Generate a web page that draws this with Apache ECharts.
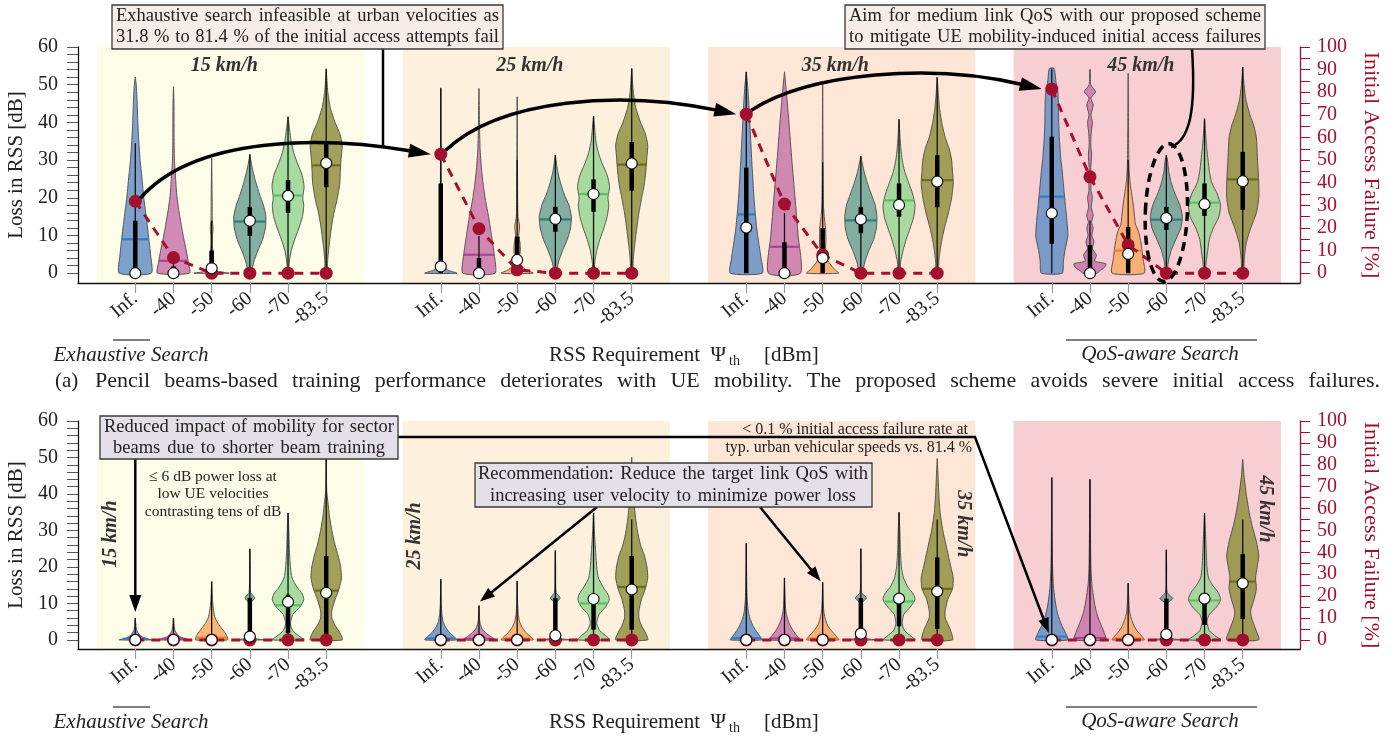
<!DOCTYPE html>
<html><head><meta charset="utf-8">
<script src="https://cdn.jsdelivr.net/npm/echarts@6/dist/echarts.min.js"></script>
<style>html,body{margin:0;padding:0;background:#fff}#c{width:1398px;height:738px}</style>
</head><body><div id="c"></div>
<script>
// ---------------- DATA ----------------
const thresholds = ['Inf.', '-40', '-50', '-60', '-70', '-83.5'];
const velocities = ['15 km/h', '25 km/h', '35 km/h', '45 km/h'];
const leftTicks = [0, 10, 20, 30, 40, 50, 60];
const rightTicks = [0, 10, 20, 30, 40, 50, 60, 70, 80, 90, 100];

// Initial access failure rate [%] per velocity group (rows) and RSS requirement (cols)
const pencilFailure = [
  [31.8, 6.9, 0, 0, 0, 0],
  [52.6, 19.7, 1.5, 0, 0, 0],
  [70.3, 30.6, 8.1, 0, 0, 0],
  [81.4, 42.6, 12.5, 0, 0, 0]
];
const sectorFailure = [
  [0, 0, 0, 0, 0, 0],
  [0, 0, 0, 0, 0, 0],
  [0, 0, 0, 0, 0, 0],
  [0, 0, 0, 0, 0, 0]
];

// Loss in RSS statistics [dB]: [whisker low, Q1, median, Q3, whisker high, mean]
const pencilStats = [
  [[0,0,0,13.9,34.5,9.0],[0,0,0,1.8,4,3.3],[0,1.3,1.3,6,14,3.8],[0,9.9,13.9,17.6,31.5,13.7],[0,16,20.5,24.7,41.5,20.6],[0,22.8,29.2,34.9,54.2,28.6]],
  [[0,0,1.8,23.8,49.2,11.5],[0,0,0,4,9.9,4.9],[0,3.5,3.5,9.7,30,5.2],[0,11,14.4,17.6,31.3,14.3],[0,16.3,21,24.9,41.6,21],[0,21.9,29.1,34.8,54.3,28.8]],
  [[0,0,12.1,28,53.4,15.6],[0,0,0,8.2,16,7.0],[0,0,4,12,29.4,5.5],[0,10.6,14.3,17.6,31,14],[0,15,18.1,23.8,40.8,19.3],[0,17.5,24.3,31.3,52,24.7]],
  [[0,7.8,15.9,36.2,54.3,20.3],[0,0,0,7.4,14,7],[0,0,5.1,12.3,30,6],[0,11.5,14.6,17.6,31.3,14.2],[0,15.2,18.3,23.8,41,18.7],[0,16.8,24.4,32.2,54.7,24.9]]
];
const sectorStats = [
  [[0,0,0,0.3,6,0.3],[0,0,0,0.3,6,0.3],[0,0,0,0.5,16,0.6],[0,0,0.9,11.5,25,1.5],[0,1.8,10.4,12.4,34.8,9.5],[0,0,12.9,23,49.7,13.5]],
  [[0,0,0,0.3,16.6,0.4],[0,0,0,0.3,9.4,0.3],[0,0,0,0.3,16.1,0.4],[0,0,1.2,11.5,24.5,1.5],[0,2.8,11.2,11,34.8,10],[0,2.8,13.8,23,33,14.5]],
  [[0,0,0,0.3,26.5,0.5],[0,0,0,0.3,17,0.4],[0,0,0,0.3,15.8,0.4],[0,0,1.7,11.5,25,1.8],[0,3.7,11.3,10,35,10.5],[0,3,13.3,22.6,33,14]],
  [[0,0,0,0.3,44.5,0.9],[0,0,0,0.3,44,0.5],[0,0,0,0.3,15.5,0.4],[0,0,1.5,11.3,24.7,1.8],[0,4.1,11.3,10.2,34.7,10.8],[0,5.7,15.5,23.5,33,16]]
];

// Violin density outlines: [loss dB, relative half width]
const pencilShapes = [
  [
    [[0,1],[5,0.95],[9,0.85],[15,0.68],[20,0.53],[25,0.42],[30,0.3],[35,0.22],[40,0.16],[45,0.12],[50,0.06],[52,0]],
    [[0,1],[3,0.92],[6,0.8],[9,0.65],[13,0.48],[17,0.32],[21,0.2],[26,0.12],[30,0.06],[35,0.04],[45,0.03],[49.5,0]],
    [[0,1.1],[0.5,0.35],[1.2,0.12],[3,0.1],[5,0.11],[7,0.05],[10,0.05],[12,0.09],[14,0.04],[20,0.03],[30.5,0]],
    [[0,0.08],[3,0.25],[6,0.5],[9,0.8],[12,0.97],[15,1],[18,0.85],[21,0.6],[24,0.38],[27,0.2],[29,0.1],[31.5,0]],
    [[0,0.03],[3,0.08],[6,0.2],[9,0.42],[12,0.68],[15,0.9],[18,0.98],[20,0.92],[23,1],[26,0.88],[29,0.6],[32,0.35],[35,0.2],[38,0.1],[41.5,0]],
    [[0,0.05],[4,0.1],[8,0.2],[12,0.32],[16,0.48],[20,0.7],[24,0.85],[27,0.88],[30,0.92],[34,1],[37,0.85],[40,0.55],[44,0.25],[48,0.1],[54,0]]
  ],
  [
    [[0,1],[0.8,0.45],[2,0.15],[4,0.06],[10,0.03],[30,0.02],[49,0]],
    [[0,1],[5,0.95],[10,0.78],[15,0.6],[19,0.42],[23,0.28],[28,0.15],[33,0.07],[40,0.03],[49,0]],
    [[0,1],[1,0.5],[2.5,0.18],[4,0.14],[6,0.2],[8,0.18],[10,0.1],[12.5,0.15],[15,0.05],[20,0.03],[46.8,0]],
    [[0,0.05],[3,0.2],[6,0.45],[9,0.75],[12,0.95],[15,1],[18,0.85],[21,0.55],[24,0.32],[27,0.15],[31.3,0]],
    [[0,0.03],[3,0.08],[6,0.2],[9,0.4],[12,0.65],[15,0.85],[18,0.95],[20,0.9],[23,1],[26,0.85],[29,0.55],[32,0.3],[35,0.15],[38,0.08],[41.6,0]],
    [[0,0.05],[4,0.1],[8,0.2],[12,0.32],[16,0.45],[20,0.62],[24,0.8],[28,0.9],[31,0.95],[34,1],[37,0.85],[40,0.55],[44,0.25],[48,0.1],[54.3,0]]
  ],
  [
    [[0,1],[4,0.92],[8,0.78],[12,0.65],[16,0.56],[20,0.48],[25,0.41],[30,0.34],[35,0.28],[40,0.22],[45,0.16],[50,0.08],[53.4,0]],
    [[0,1],[10,0.85],[20,0.66],[30,0.46],[40,0.28],[48,0.12],[53.4,0]],
    [[0,1],[1,0.75],[2.5,0.45],[4,0.25],[6,0.18],[9,0.2],[12,0.18],[15,0.1],[18,0.05],[25,0.03],[50.7,0]],
    [[0,0.08],[3,0.25],[6,0.5],[9,0.8],[12,0.97],[15,1],[18,0.9],[21,0.65],[24,0.4],[27,0.2],[31,0]],
    [[0,0.05],[3,0.1],[6,0.25],[9,0.45],[12,0.7],[15,0.92],[18,1],[21,0.85],[24,0.6],[27,0.35],[30,0.2],[33,0.12],[36,0.06],[40.8,0]],
    [[0,0.05],[4,0.12],[8,0.25],[12,0.45],[16,0.7],[20,0.9],[24,1],[27,0.95],[30,0.9],[33,0.75],[36,0.5],[40,0.28],[44,0.14],[48,0.06],[52,0]]
  ],
  [
    [[0,0.65],[3,0.72],[6,0.82],[10,1],[14,0.94],[18,0.85],[22,0.76],[27,0.65],[31,0.55],[36,0.47],[40,0.43],[44,0.42],[48,0.38],[51,0.25],[54.3,0.15]],
    [[0,0.45],[0.6,0.6],[1.5,0.9],[2.5,1.0],[3.2,0.3],[4.8,0.4],[6.5,0.15],[8.4,0.25],[10,0.12],[12,0.2],[13.5,0.1],[15.4,0.2],[17.5,0.08],[20,0.15],[22,0.06],[25,0.08],[28,0.05],[31.3,0.1],[34,0.05],[37,0.07],[40,0.15],[42,0.06],[44.6,0.2],[46.5,0.06],[48.1,0.35],[50,0.05],[54,0.02]],
    [[0,1],[4,0.92],[8,0.8],[11,0.65],[13,0.45],[15,0.4],[18,0.32],[21,0.22],[24,0.12],[28,0.05],[35,0.03],[53,0]],
    [[0,0.05],[3,0.12],[6,0.3],[9,0.6],[12,0.9],[15,1],[18,0.85],[21,0.55],[24,0.3],[27,0.15],[30,0.07],[31.3,0]],
    [[0,0.03],[3,0.1],[6,0.2],[9,0.3],[12,0.55],[15,0.9],[18,1],[21,0.8],[24,0.45],[27,0.3],[30,0.22],[33,0.14],[36,0.08],[41,0]],
    [[0,0.05],[4,0.1],[8,0.22],[12,0.5],[16,0.85],[20,1],[24,1],[28,0.95],[32,0.9],[36,0.85],[39,0.7],[42,0.45],[46,0.2],[50,0.08],[54.7,0]]
  ]
];
const sectorShapes = [
  [
    [[0,1],[0.5,0.6],[1.2,0.3],[2.5,0.1],[4,0.04],[6,0]],
    [[0,1],[0.5,0.6],[1.2,0.3],[2.5,0.1],[4,0.04],[6,0]],
    [[0,1],[1.5,0.9],[3,0.65],[4.5,0.4],[6,0.22],[8,0.12],[11,0.05],[16,0]],
    [[0,1],[0.4,0.2],[1,0.05],[5,0.03],[10,0.05],[11.5,0.3],[13,0.05],[20,0.02],[24.9,0]],
    [[0,1],[1,0.7],[2.5,0.3],[4.5,0.15],[7,0.3],[9,0.75],[11,0.98],[12.5,0.9],[14.5,0.55],[17,0.25],[20,0.15],[25,0.08],[30,0.05],[34.8,0]],
    [[0,1],[2,0.85],[4,0.55],[6,0.35],[8,0.35],[11,0.55],[14,0.8],[17,0.95],[20,0.9],[23,0.75],[26,0.55],[30,0.35],[34,0.2],[38,0.1],[41,0.03],[49.7,0]]
  ],
  [
    [[0,1],[1,0.8],[2,0.55],[3.5,0.3],[5,0.15],[7,0.07],[10,0.03],[16.6,0]],
    [[0,1],[1,0.7],[2,0.4],[3,0.2],[4.5,0.08],[6,0.03],[9.4,0]],
    [[0,1],[1,0.8],[2,0.55],[3.5,0.3],[5,0.15],[7,0.07],[10,0.03],[16.1,0]],
    [[0,1],[0.4,0.2],[1,0.05],[5,0.03],[10,0.05],[11.5,0.3],[13,0.05],[20,0.02],[24.5,0]],
    [[0,1],[1,0.8],[2.5,0.4],[4.5,0.2],[7,0.35],[9,0.75],[11,0.98],[12.5,0.9],[14.5,0.6],[17,0.3],[20,0.2],[25,0.12],[30,0.05],[34.8,0]],
    [[0,1],[2,0.85],[4,0.6],[6,0.45],[8,0.45],[11,0.6],[14,0.85],[17,1],[20,0.95],[23,0.8],[26,0.55],[30,0.35],[35,0.2],[40,0.12],[45,0.06],[50,0]]
  ],
  [
    [[0,1],[1,0.85],[2.5,0.6],[4,0.4],[6,0.22],[8,0.12],[11,0.06],[15,0.03],[26.5,0]],
    [[0,1],[1,0.8],[2.5,0.55],[4,0.35],[6,0.18],[8,0.08],[11,0.04],[17,0]],
    [[0,1],[1,0.85],[2.5,0.55],[4,0.3],[6,0.15],[8,0.07],[11,0.03],[15.8,0]],
    [[0,1],[0.4,0.25],[1.2,0.08],[5,0.03],[10,0.05],[11.5,0.35],[13,0.05],[20,0.02],[25,0]],
    [[0,1],[1,0.75],[2.5,0.35],[4.5,0.2],[7,0.3],[9,0.7],[11,1],[12.5,0.9],[14.5,0.55],[17,0.28],[20,0.15],[25,0.08],[30,0.05],[35,0]],
    [[0,0.95],[3,0.8],[6,0.5],[8,0.5],[11,0.65],[14,0.95],[17,1],[20,0.85],[23,0.7],[26,0.55],[30,0.35],[35,0.18],[40,0.1],[45,0.05],[49.7,0]]
  ],
  [
    [[0,1],[2,0.85],[4,0.62],[6,0.45],[8,0.32],[11,0.2],[15,0.1],[20,0.05],[30,0.02],[44.5,0]],
    [[0,1],[2,0.88],[4,0.7],[6,0.52],[8,0.38],[11,0.25],[15,0.12],[20,0.06],[30,0.03],[44,0]],
    [[0,1],[1,0.85],[2.5,0.55],[4,0.35],[6,0.18],[8,0.08],[11,0.04],[15.5,0]],
    [[0,1],[0.4,0.25],[1.2,0.08],[5,0.03],[10,0.05],[11.3,0.4],[13,0.05],[20,0.02],[24.7,0]],
    [[0,1],[1,0.7],[2.5,0.3],[5,0.15],[7,0.3],[9,0.75],[11,1],[13,0.85],[15,0.5],[17,0.25],[20,0.15],[25,0.1],[30,0.05],[34.7,0]],
    [[0,1],[3,0.8],[6,0.55],[8,0.5],[11,0.7],[14,0.85],[17,0.8],[20,0.9],[23,1],[27,0.85],[31,0.6],[35,0.4],[40,0.22],[45,0.08],[49.5,0]]
  ]
];

// ---------------- STYLE / LAYOUT ----------------
const SERIF = '"Liberation Serif", "DejaVu Serif", serif';
const SLOTS = 8;
const slotOf = (g, i) => g * SLOTS + i;
const fills = ['rgba(102,144,198,0.85)','rgba(200,118,172,0.85)','rgba(250,172,104,0.88)','rgba(108,163,150,0.85)','rgba(152,214,148,0.85)','rgba(146,144,66,0.85)'];
const meanColors = ['#2f7fc8','#a8468d','#e8862a','#2d7f77','#5cc060','#6f6d1c'];
const bgColors = ['#fcfce9','#fdf1dd','#fde6d6','#f7ced1'];
const RED = '#a3102d';
const panelMin = [-2.6, -2.5];
const panels = [
  {shapes: pencilShapes, stats: pencilStats, fail: pencilFailure},
  {shapes: sectorShapes, stats: sectorStats, fail: sectorFailure}
];
const tickSlots = [];
for (let g = 0; g < velocities.length; g++) for (let i = 0; i < thresholds.length; i++) tickSlots.push(slotOf(g, i));

function widthAt(prof, v) {
  for (let k = 1; k < prof.length; k++) {
    if (v <= prof[k][0]) {
      const a = prof[k-1], b = prof[k];
      const t = (v - a[0]) / ((b[0] - a[0]) || 1);
      return a[1] + (b[1] - a[1]) * t;
    }
  }
  return prof[prof.length-1][1];
}

const chart = echarts.init(document.getElementById('c'));

const grids = [
  {left: 78, top: 47, width: 1222, height: 236, containLabel: false, outerBoundsMode: 'none'},
  {left: 78, top: 421, width: 1222, height: 228, containLabel: false, outerBoundsMode: 'none'}
];
const xAxes = [0, 1].map(p => ({
  type: 'value', gridIndex: p, min: -1.5, max: 30.5,
  axisLine: {show: true, onZero: false, lineStyle: {color: '#111', width: 1.3}},
  axisTick: {show: true, customValues: tickSlots, length: 10, lineStyle: {color: '#999', width: 1.2}},
  axisLabel: {show: true, customValues: tickSlots, rotate: 40, margin: 13,
    formatter: v => thresholds[Math.round(v) % SLOTS], fontFamily: SERIF, fontSize: 20, color: '#222'},
  splitLine: {show: false}
}));
const yAxes = [];
[0, 1].forEach(p => {
  const minorL = []; for (let v = 0; v <= 60; v += 2) minorL.push(v);
  const minorR = []; for (let v = 0; v <= 100; v += 5) minorR.push(v);
  yAxes.push({
    type: 'value', gridIndex: p, position: 'left', min: panelMin[p], max: 60,
    axisLine: {show: true, onZero: false, lineStyle: {color: '#111', width: 1.3}},
    axisTick: {show: true, customValues: minorL, length: 11, lineStyle: {color: '#555', width: 1}},
    axisLabel: {show: true, customValues: leftTicks, margin: 20, fontFamily: SERIF, fontSize: 20, color: '#222'},
    splitLine: {show: false},
    name: 'Loss in RSS [dB]', nameLocation: 'middle', nameGap: 50, nameRotate: 90,
    nameTextStyle: {fontFamily: SERIF, fontSize: 21, color: '#222'}
  });
  yAxes.push({
    type: 'value', gridIndex: p, position: 'right', min: panelMin[p] * 100 / 60, max: 100,
    axisLine: {show: true, onZero: false, lineStyle: {color: RED, width: 1.3}},
    axisTick: {show: true, customValues: minorR, length: 10, lineStyle: {color: RED, width: 1}},
    axisLabel: {show: true, customValues: rightTicks, margin: 17, fontFamily: SERIF, fontSize: 20, color: RED},
    splitLine: {show: false},
    name: 'Initial Access Failure [%]', nameLocation: 'middle', nameGap: 60, nameRotate: -90,
    nameTextStyle: {fontFamily: SERIF, fontSize: 22, color: RED}
  });
});

const series = [];
panels.forEach((P, p) => {
  // background bands + velocity labels
  series.push({
    type: 'custom', xAxisIndex: p, yAxisIndex: 2 * p, z: 0, silent: true,
    data: velocities.map((v, g) => [slotOf(g, 2.5), 30, g]),
    renderItem: (params, api) => {
      const g = api.value(2);
      const a = api.coord([slotOf(g, -1), 60]);
      const b = api.coord([slotOf(g, 6), panelMin[p]]);
      const children = [{type: 'rect', shape: {x: a[0], y: a[1], width: b[0] - a[0], height: b[1] - a[1]}, style: {fill: bgColors[g]}}];
      if (p === 0) {
        const t = api.coord([slotOf(g, 2.33), 55.0]);
        children.push({type: 'text', x: t[0], y: t[1], style: {text: velocities[g], font: 'italic bold 20px ' + SERIF, fill: '#333', align: 'center', verticalAlign: 'middle'}});
      } else {
        const pos = [[-0.65, 29], [-0.67, 28.5], [5.68, 31.8], [5.6, 35.9]][g];
        const t = api.coord([slotOf(g, pos[0]), pos[1]]);
        children.push({type: 'text', x: t[0], y: t[1], rotation: g < 2 ? Math.PI / 2 : -Math.PI / 2,
          style: {text: velocities[g], font: 'italic bold 20px ' + SERIF, fill: '#333', align: 'center', verticalAlign: 'middle'}});
      }
      return {type: 'group', children};
    }
  });
  // violins
  const vdata = [];
  velocities.forEach((v, g) => thresholds.forEach((t, i) => vdata.push([slotOf(g, i), 20, g, i])));
  series.push({
    type: 'custom', xAxisIndex: p, yAxisIndex: 2 * p, z: 2, silent: true, data: vdata,
    renderItem: (params, api) => {
      const slot = api.value(0), g = api.value(2), i = api.value(3);
      const prof = P.shapes[g][i], st = P.stats[g][i];
      const xc = api.coord([slot, 0])[0];
      const hw = api.size([1, 0])[0] * 0.42;
      const right = prof.map(([v, w]) => [xc + w * hw, api.coord([slot, v])[1]]);
      const left = prof.slice().reverse().map(([v, w]) => [xc - w * hw, api.coord([slot, v])[1]]);
      const children = [{type: 'polygon', shape: {points: right.concat(left), smooth: 0.2},
        style: {fill: fills[i], stroke: '#4a4a4a', lineWidth: 0.9}}];
      const wm = widthAt(prof, st[5]) * hw;
      const ym = api.coord([slot, st[5]])[1];
      children.push({type: 'line', shape: {x1: xc - wm, y1: ym, x2: xc + wm, y2: ym}, style: {stroke: meanColors[i], lineWidth: 2.2}});
      const lo = api.coord([slot, st[0]])[1], hi = api.coord([slot, st[4]])[1];
      const q1 = api.coord([slot, st[1]])[1], q3 = api.coord([slot, st[3]])[1];
      children.push({type: 'line', shape: {x1: xc, y1: lo, x2: xc, y2: hi}, style: {stroke: '#111', lineWidth: 1.3}});
      children.push({type: 'line', shape: {x1: xc, y1: q1, x2: xc, y2: q3}, style: {stroke: '#000', lineWidth: 4.5}});
      return {type: 'group', children};
    }
  });
  // failure rate lines
  velocities.forEach((v, g) => {
    series.push({
      type: 'line', xAxisIndex: p, yAxisIndex: 2 * p + 1, z: 4, silent: true,
      data: thresholds.map((t, i) => [slotOf(g, i), P.fail[g][i]]),
      symbol: 'circle', symbolSize: 13, showSymbol: true,
      lineStyle: {color: RED, width: 3, type: [9, 7]},
      itemStyle: {color: RED, borderWidth: 0},
      animation: false
    });
  });
  // medians
  const mdata = [];
  velocities.forEach((v, g) => thresholds.forEach((t, i) => mdata.push([slotOf(g, i), P.stats[g][i][2]])));
  series.push({
    type: 'scatter', xAxisIndex: p, yAxisIndex: 2 * p, z: 6, silent: true, data: mdata,
    symbol: 'circle', symbolSize: 11,
    itemStyle: {color: '#fff', borderColor: '#111', borderWidth: 1.2, opacity: 1}
  });
});

chart.setOption({
  animation: false,
  backgroundColor: '#fff',
  grid: grids, xAxis: xAxes, yAxis: yAxes, series
});

// ---------------- ANNOTATIONS ----------------
const gr = [];
const mctx = document.createElement('canvas').getContext('2d');
const px = (p, slot, v, right) => chart.convertToPixel({xAxisIndex: p, yAxisIndex: 2 * p + (right ? 1 : 0)}, [slot, v]);
function txt(x, y, text, opt) {
  gr.push({type: 'text', x, y, z: 120, silent: true,
    style: Object.assign({text, fill: '#222', font: '18.5px ' + SERIF, align: 'center', verticalAlign: 'middle'}, opt || {})});
}
function justify(x0, x1, y, text, font) {
  font = font || ('18.5px ' + SERIF);
  mctx.font = font;
  const words = text.split(' ');
  const ws = words.map(w => mctx.measureText(w).width);
  const total = ws.reduce((a, b) => a + b, 0);
  const gap = (x1 - x0 - total) / Math.max(1, words.length - 1);
  let x = x0;
  words.forEach((w, k) => { txt(x, y, w, {font, align: 'left'}); x += ws[k] + gap; });
}
function box(x, y, w, h, fill) {
  gr.push({type: 'rect', shape: {x, y, width: w, height: h}, z: 110, silent: true, style: {fill, stroke: '#3a3a3a', lineWidth: 1.3}});
}
function pline(points, w) {
  gr.push({type: 'polyline', shape: {points}, z: 105, silent: true, style: {stroke: '#000', lineWidth: w, fill: null}});
}
function head(tip, from, L, W) {
  const dx = tip[0] - from[0], dy = tip[1] - from[1], d = Math.hypot(dx, dy);
  const ux = dx / d, uy = dy / d;
  const bx = tip[0] - ux * L, by = tip[1] - uy * L;
  gr.push({type: 'polygon', z: 106, silent: true, shape: {points: [tip, [bx - uy * W, by + ux * W], [bx + uy * W, by - ux * W]]}, style: {fill: '#000'}});
  return [bx + ux * 2, by + uy * 2];
}
function curveArrow(p0, p1, p2, tip, w) {
  const base = head(tip, p2, 22, 7);
  gr.push({type: 'bezierCurve', z: 105, silent: true,
    shape: {x1: p0[0], y1: p0[1], cpx1: p1[0], cpy1: p1[1], cpx2: p2[0], cpy2: p2[1], x2: base[0], y2: base[1]},
    style: {stroke: '#000', lineWidth: w, fill: null}});
}
function straightArrow(points, tip, w, L, W) {
  const last = points[points.length - 1];
  const base = head(tip, last, L, W);
  pline(points.concat([base]), w);
}

// top panel: curved arrows between the Inf. failure rates
const d = [0, 1, 2, 3].map(g => px(0, slotOf(g, 0), pencilFailure[g][0], true));
curveArrow([d[0][0] + 5, d[0][1] - 3], [d[0][0] + 60, d[0][1] - 66], [d[1][0] - 118, d[1][1] - 18], [d[1][0] - 10, d[1][1]], 3.5);
curveArrow([d[1][0] + 5, d[1][1] - 4], [d[1][0] + 60, d[1][1] - 56], [d[2][0] - 125, d[2][1] - 24], [d[2][0] - 10, d[2][1]], 3.5);
curveArrow([d[2][0] + 5, d[2][1] - 4], [d[2][0] + 65, d[2][1] - 42], [d[3][0] - 120, d[3][1] - 26], [d[3][0] - 10, d[3][1]], 3.5);

// box A
pline([[383, 49], [383, 148]], 2.5);
box(112, 5, 391, 44, '#f6ece8');
justify(116, 499, 16.5, 'Exhaustive search infeasible at urban velocities as');
justify(116, 499, 37.5, '31.8 % to 81.4 % of the initial access attempts fail');

// box B + ellipse
const e = px(0, slotOf(3, 3), 15, false);
gr.push({type: 'ellipse', z: 105, silent: true, x: e[0], y: e[1] - 4, rotation: -0.04,
  shape: {cx: 0, cy: 0, rx: 21, ry: 69}, style: {fill: null, stroke: '#000', lineWidth: 3.5, lineDash: [9, 6]}});
gr.push({type: 'bezierCurve', z: 105, silent: true,
  shape: {x1: 1192, y1: 49, cpx1: 1196, cpy1: 110, cpx2: 1190, cpy2: 140, x2: 1171, y2: 147},
  style: {stroke: '#000', lineWidth: 2.5, fill: null}});
box(845, 5, 420, 44, '#f6ece8');
justify(849, 1261, 16.5, 'Aim for medium link QoS with our proposed scheme');
justify(849, 1261, 37.5, 'to mitigate UE mobility-induced initial access failures');

// bottom panel
const infTip = px(1, slotOf(0, 0), sectorShapes[0][0][sectorShapes[0][0].length - 1][0], false);
straightArrow([[infTip[0], 459]], [infTip[0], infTip[1] - 6], 2.5, 17, 6);
const qTip = px(1, slotOf(3, 0), sectorStats[3][0][2], false);
straightArrow([[398, 437], [975, 437]], [qTip[0] - 3, qTip[1] - 7], 2.5, 15, 5.5);
box(100, 416, 298, 43, '#e5dfe9');
justify(104, 394, 427.5, 'Reduced impact of mobility for sector');
justify(113, 385, 448.5, 'beams due to shorter beam training');
txt(213, 477, '\u2264 6 dB power loss at', {font: '15.5px ' + SERIF});
txt(213, 494, 'low UE velocities', {font: '15.5px ' + SERIF});
txt(213, 512, 'contrasting tens of dB', {font: '15.5px ' + SERIF});
txt(968, 430, '< 0.1 % initial access failure rate at', {font: '16px ' + SERIF, align: 'right'});
txt(972, 448, 'typ. urban vehicular speeds vs. 81.4 %', {font: '16px ' + SERIF, align: 'right'});

const r1 = px(1, slotOf(1, 1), sectorShapes[1][1][sectorShapes[1][1].length - 1][0], false);
straightArrow([[597, 507]], [r1[0] + 1, r1[1] - 4], 2.5, 15, 5.5);
const r2 = px(1, slotOf(2, 2), sectorShapes[2][2][sectorShapes[2][2].length - 1][0], false);
straightArrow([[760, 507]], [r2[0] - 2, r2[1] - 1], 2.5, 15, 5.5);
box(475, 463, 397, 44, '#e5dfe9');
justify(478, 868, 474, 'Recommendation: Reduce the target link QoS with');
justify(490, 856, 496, 'increasing user velocity to minimize power loss');

// axis group labels
[[355, 340], [722, 707]].forEach(([ty, ly]) => {
  txt(131, ty, 'Exhaustive Search', {font: 'italic 21px ' + SERIF});
  pline([[113, ly], [150, ly]], 1.2);
  txt(1160, ty - 1, 'QoS-aware Search', {font: 'italic 21px ' + SERIF});
  pline([[1066, ly], [1257, ly]], 1.2);
  txt(726, ty, 'RSS Requirement  \u03A8', {font: '21px ' + SERIF, align: 'right'});
  txt(729, ty + 6, 'th', {font: '14px ' + SERIF, align: 'left'});
  txt(764, ty, '[dBm]', {font: '21px ' + SERIF, align: 'left'});
});
txt(55, 381, '(a)', {font: '21px ' + SERIF, align: 'left'});
justify(95, 1380, 381, 'Pencil beams-based training performance deteriorates with UE mobility. The proposed scheme avoids severe initial access failures.', '22px ' + SERIF);

chart.setOption({graphic: {elements: gr}});
</script>
</body></html>
